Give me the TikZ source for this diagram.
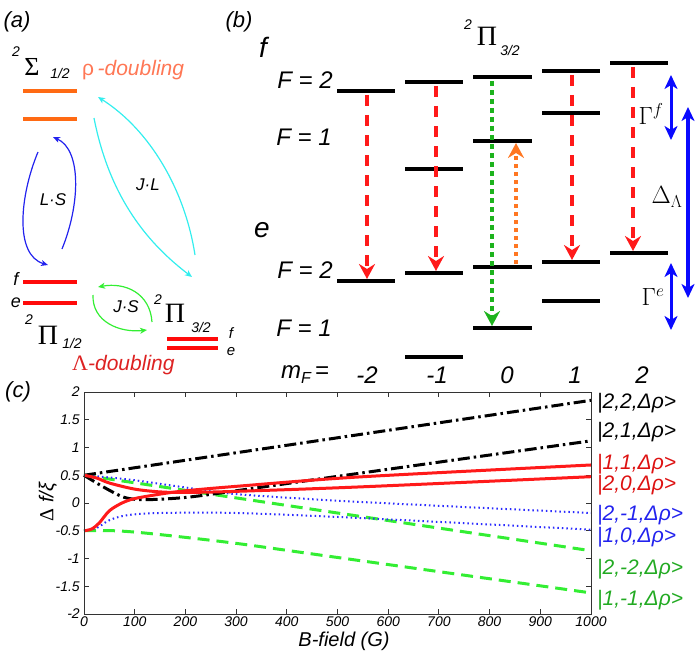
\documentclass[tikz,border=0pt]{standalone}
\usepackage{fontspec}
\setmainfont{Liberation Sans}
\newfontfamily\serf{Liberation Serif}
\usetikzlibrary{arrows.meta}
\definecolor{lvorange}{HTML}{FF6A13}
\definecolor{rhocol}{HTML}{FF7755}
\definecolor{lamred}{HTML}{DD2222}
\definecolor{lvred}{HTML}{FF0A0A}
\definecolor{plred}{HTML}{FF1A1A}
\definecolor{plblue}{HTML}{2B2BFF}
\definecolor{plgreen}{HTML}{33EE33}
\definecolor{kgreen}{HTML}{22AA22}
\definecolor{kblue}{HTML}{2222EE}
\definecolor{kred}{HTML}{DD1111}
\definecolor{arrgreen}{HTML}{1DB31D}
\definecolor{arrorange}{HTML}{FF7722}
\definecolor{cyanarr}{HTML}{33EEEE}
\definecolor{lsblue}{HTML}{2222EE}
\definecolor{jsgreen}{HTML}{33EE33}
\definecolor{bluebar}{HTML}{0A0AFF}
\newcommand{\fsz}[1]{\fontsize{#1}{#1}\selectfont}
\begin{document}
\begin{tikzpicture}[x=1pt,y=-1pt,
  lab/.style={inner sep=0pt, font=\fsz{#1}\itshape},
  lab/.default=20,
  greek/.style={inner sep=0pt, font=\fsz{#1}\serf},
  greek/.default=28,
  lvl/.style={line width=4pt, black},
  alvl/.style={line width=4pt},
  tinyarr/.style={line width=1.2pt, -{Stealth[length=7pt,width=6pt,inset=2pt]}},
  redarr/.style={draw=plred, line width=4pt, dash pattern=on 11pt off 9pt, -{Stealth[length=15pt,width=16pt,inset=5pt]}},
  grnarr/.style={draw=arrgreen, line width=4pt, dash pattern=on 5pt off 4pt, -{Stealth[length=15pt,width=16pt,inset=5pt]}},
  orgarr/.style={draw=arrorange, line width=3.5pt, dash pattern=on 4pt off 4pt, -{Stealth[length=15pt,width=16pt,inset=5pt]}},
  bluearr/.style={draw=bluebar, line width=#1, {Stealth[length=14pt,width=13pt,inset=4pt]}-{Stealth[length=14pt,width=13pt,inset=4pt]}},
  frame/.style={draw=black!80, line width=1pt},
  crvblack/.style={black, line width=3pt, dash pattern=on 12pt off 4pt on 2.5pt off 4pt},
  crvred/.style={plred, line width=3pt},
  crvblue/.style={plblue, line width=2pt, dash pattern=on 1.5pt off 3pt},
  crvgreen/.style={plgreen, line width=3pt, dash pattern=on 12pt off 7pt},
  ket/.style={inner sep=0pt, anchor=west, font=\fsz{21}\itshape},
  tick/.style={inner sep=0pt, font=\fsz{14}\itshape}
]
\useasboundingbox (0,0) rectangle (698,650);

% ---------------- panel (a)
\node[lab=22] (pa) at (17,22) {(a)};
\node[lab=14] (sigsup) at (16,52) {2};
\node[greek=26] (sig) at (32,67) {Σ};
\node[lab=14] (sigsub) at (60,73) {1/2};
\node[inner sep=0pt, font=\fsz{21}, text=rhocol, anchor=west] (rho) at (82,70) {ρ\,\textit{-doubling}};
\draw[alvl, lvorange] (23,91) -- (77,91);
\draw[alvl, lvorange] (23,119) -- (77,119);
\draw[alvl, lvred] (23,282) -- (77,282);
\draw[alvl, lvred] (23,303) -- (77,303);
\node[lab=18] (af1) at (16,279) {f};
\node[lab=18] (ae1) at (16,303) {e};
\node[lab=14] (p1sup) at (29,320) {2};
\node[greek] (p1) at (48,335) {Π};
\node[lab=14] (p1sub) at (72,343) {1/2};
\node[inner sep=0pt, text=lamred, anchor=west] (lam) at (72,365) {{\serf\fsz{22}Λ}{\fsz{21}\itshape -doubling}};
\draw[alvl, lvred] (167,338.5) -- (218,338.5);
\draw[alvl, lvred] (167,348) -- (218,348);
\node[lab=15] (af2) at (231,333) {f};
\node[lab=15] (ae2) at (231,352) {e};
\node[lab=14] (p3sup) at (158,300) {2};
\node[greek] (p3) at (175,313) {Π};
\node[lab=14] (p3sub) at (201,327) {3/2};
% couplings
\coordinate (ls1s) at (62,249); \coordinate (ls1e) at (53,137);
\coordinate (ls2s) at (38,152); \coordinate (ls2e) at (48,265);
\draw[lsblue, tinyarr] (ls1s) .. controls (80,205) and (82,150) .. (ls1e);
\draw[lsblue, tinyarr] (ls2s) .. controls (20,195) and (14,255) .. (ls2e);
\node[lab=17] (lslab) at (53,200) {L·S};
\coordinate (jl1s) at (94,118); \coordinate (jl1e) at (192,277);
\coordinate (jl2s) at (195,255); \coordinate (jl2e) at (98,97);
\draw[cyanarr, tinyarr] (jl1s) .. controls (110,200) and (150,245) .. (jl1e);
\draw[cyanarr, tinyarr] (jl2s) .. controls (185,190) and (150,130) .. (jl2e);
\node[lab=17] (jllab) at (148,185) {J·L};
\coordinate (js1s) at (152,322); \coordinate (js1e) at (98,287);
\coordinate (js2s) at (93,295); \coordinate (js2e) at (147,330);
\draw[jsgreen, tinyarr] (js1s) .. controls (150,293) and (125,282) .. (js1e);
\draw[jsgreen, tinyarr] (js2s) .. controls (92,322) and (120,333) .. (js2e);
\node[lab=17] (jslab) at (126,307) {J·S};

% ---------------- panel (b)
\node[lab=22] (pb) at (239,22) {(b)};
\node[lab=28] (bf) at (263,47) {f};
\node[lab=24] (bF2f) at (305,80) {F = 2};
\node[lab=24] (bF1f) at (304,137) {F = 1};
\node[lab=28] (be) at (262,230) {e};
\node[lab=24] (bF2e) at (305,270) {F = 2};
\node[lab=24] (bF1e) at (304,328) {F = 1};
\node[lab=24] (mf) at (305,375) {m\raisebox{-5pt}{\fsz{16}F}\,=};
\node[lab=24] (mm2) at (367,375) {-2};
\node[lab=24] (mm1) at (437,375) {-1};
\node[lab=24] (m0) at (507,375) {0};
\node[lab=24] (mp1) at (575,375) {1};
\node[lab=24] (mp2) at (642,375) {2};
\node[lab=14] (b3sup) at (468,25) {2};
\node[greek] (b3) at (487,36) {Π};
\node[lab=14] (b3sub) at (510,50) {3/2};
% levels
\draw[lvl] (337,91) -- (395,91);
\draw[lvl] (337,281) -- (395,281);
\draw[lvl] (405,82) -- (463,82);
\draw[lvl] (405,169) -- (463,169);
\draw[lvl] (405,273) -- (463,273);
\draw[lvl] (405,357) -- (463,357);
\draw[lvl] (473,77) -- (532,77);
\draw[lvl] (473,141) -- (532,141);
\draw[lvl] (473,267) -- (532,267);
\draw[lvl] (473,328) -- (532,328);
\draw[lvl] (542,71) -- (600,71);
\draw[lvl] (542,113) -- (600,113);
\draw[lvl] (542,262) -- (600,262);
\draw[lvl] (542,301) -- (600,301);
\draw[lvl] (610,63) -- (668,63);
\draw[lvl] (610,253) -- (668,253);
% transitions
\coordinate (a1s) at (367,95);  \coordinate (a1e) at (367,279);
\coordinate (a2s) at (436,86);  \coordinate (a2e) at (436,271);
\coordinate (a4s) at (572,75);  \coordinate (a4e) at (572,260);
\coordinate (a5s) at (633,67);  \coordinate (a5e) at (633,251);
\coordinate (gs) at (492,81);   \coordinate (ge) at (492,326);
\coordinate (os) at (516,264);  \coordinate (oe) at (516,143);
\draw[redarr] (a1s) -- (a1e);
\draw[redarr] (a2s) -- (a2e);
\draw[redarr] (a4s) -- (a4e);
\draw[redarr] (a5s) -- (a5e);
\draw[grnarr] (gs) -- (ge);
\draw[orgarr] (os) -- (oe);
% splittings
\coordinate (gft) at (671,75);  \coordinate (gfb) at (671,140);
\coordinate (dlt) at (688,107); \coordinate (dlb) at (688,298);
\coordinate (get) at (671,263); \coordinate (geb) at (671,330);
\draw[bluearr=3pt] (gft) -- (gfb);
\draw[bluearr=4pt] (dlt) -- (dlb);
\draw[bluearr=3pt] (get) -- (geb);
\node[inner sep=0pt, font=\fsz{25}] (gfl) at (651,114) {$\Gamma^{f}$};
\node[inner sep=0pt, font=\fsz{25}] (dll) at (667,197) {$\Delta_{\Lambda}$};
\node[inner sep=0pt, font=\fsz{25}] (gel) at (653,297) {$\Gamma^{e}$};

% ---------------- panel (c)
\node[lab=22] (pc) at (18,392) {(c)};
\begin{scope}[x=0.507pt, y=55.5pt, shift={(84pt,-503pt)}]
  \foreach \b in {0,100,...,1000} {
    \draw[frame] (\b,-2) -- ++(0,0.09);
    \draw[frame] (\b,2) -- ++(0,-0.09);
    \node[tick] (xt\b) at (\b,-2.14) {\b};
  }
  \foreach \v/\t in {2/2,1.5/1.5,1/1,0.5/0.5,0/0,-0.5/-0.5,-1/-1,-1.5/-1.5,-2/-2} {
    \draw[frame] (0,\v) -- ++(10,0);
    \draw[frame] (1000,\v) -- ++(-10,0);
    \node[tick, anchor=east] (yt\t) at (-8,\v) {\t};
  }
  \draw[crvgreen] plot[smooth] coordinates {(0,0.5) (500,-0.18) (1000,-0.86)};
  \draw[crvgreen] plot[smooth] coordinates {(0,-0.5) (60,-0.5) (130,-0.55) (294,-0.72) (491,-0.97) (1000,-1.62)};
  \draw[crvblue] plot[smooth] coordinates {(0,0.5) (50,0.46) (100,0.41) (200,0.28) (300,0.16) (544,0.02) (1000,-0.18)};
  \draw[crvblue] plot[smooth] coordinates {(0,-0.5) (25,-0.45) (50,-0.31) (85,-0.22) (150,-0.18) (300,-0.18) (544,-0.27) (1000,-0.48)};
  \draw[crvblack] (0,0.5) -- (1000,1.85);
  \draw[crvblack] plot[smooth] coordinates {(0,0.5) (40,0.28) (80,0.1) (120,0.06) (200,0.1) (300,0.22) (500,0.48) (1000,1.12)};
  \draw[crvred] plot[smooth] coordinates {(0,0.5) (25,0.45) (50,0.36) (100,0.25) (150,0.2) (200,0.19) (300,0.21) (544,0.29) (1000,0.474)};
  \draw[crvred] plot[smooth] coordinates {(0,-0.5) (15,-0.47) (30,-0.36) (50,-0.14) (75,0) (100,0.08) (150,0.16) (200,0.22) (300,0.3) (544,0.47) (1000,0.685)};
  \draw[frame] (0,-2) rectangle (1000,2);
\end{scope}
\node[inner sep=0pt, font=\fsz{20}\itshape] (xlab) at (344,641) {B-field (G)};
\node[inner sep=0pt, font=\fsz{20}\itshape, rotate=90] (ylab) at (48,502) {{\serf\upshape Δ} f/ξ};
\node[ket, text=black] (k1) at (597,403) {|2,2,Δρ>};
\node[ket, text=black] (k2) at (597,432) {|2,1,Δρ>};
\node[ket, text=kred] (k3) at (597,464) {|1,1,Δρ>};
\node[ket, text=kred] (k4) at (597,485) {|2,0,Δρ>};
\node[ket, text=kblue] (k5) at (597,515) {|2,-1,Δρ>};
\node[ket, text=kblue] (k6) at (597,537) {|1,0,Δρ>};
\node[ket, text=kgreen] (k7) at (597,569) {|2,-2,Δρ>};
\node[ket, text=kgreen] (k8) at (597,600) {|1,-1,Δρ>};
\end{tikzpicture}
\end{document}
